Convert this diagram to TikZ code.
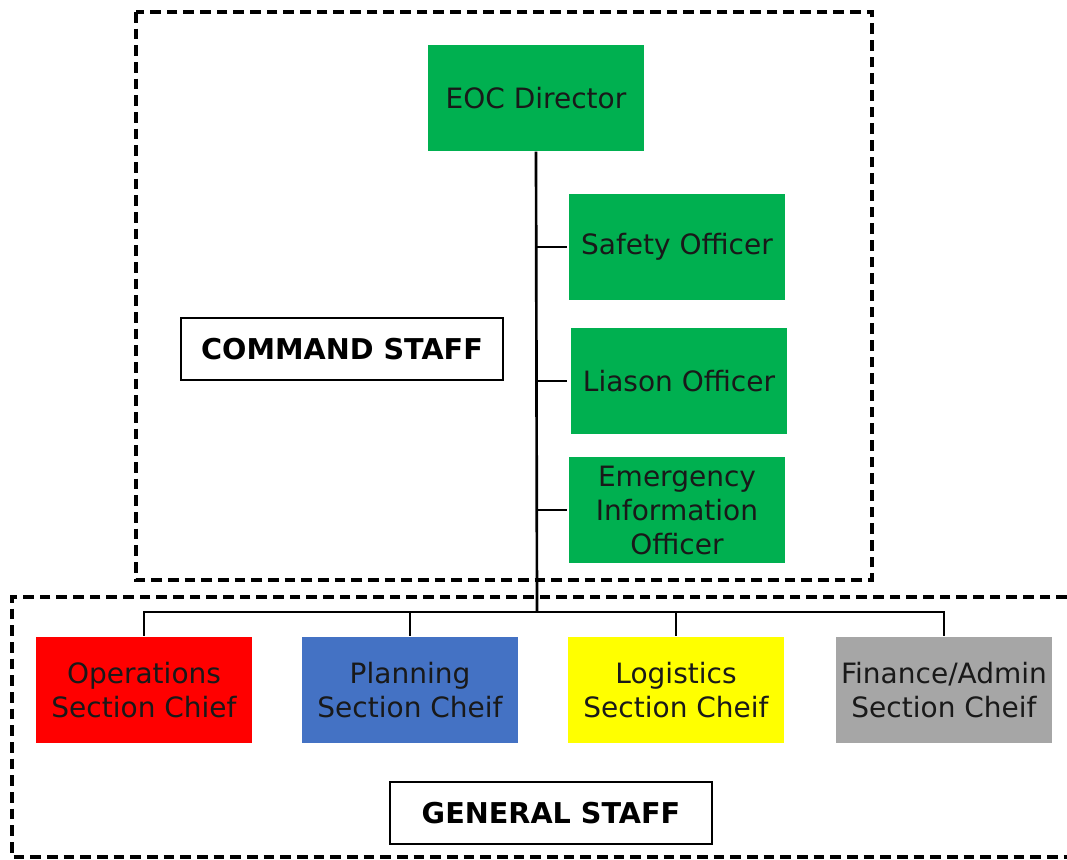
\documentclass[tikz,border=0pt]{standalone}
\usepackage{fontspec}
\setmainfont{DejaVu Sans}
\usepackage{xcolor}
\usetikzlibrary{positioning,calc}

\definecolor{eocgreen}{HTML}{00B050}
\definecolor{opsred}{HTML}{FF0000}
\definecolor{planblue}{HTML}{4472C4}
\definecolor{logyellow}{HTML}{FFFF00}
\definecolor{fingray}{HTML}{A6A6A6}

\begin{document}
\begin{tikzpicture}[
    x=0.75pt, y=-0.75pt,
    role/.style={rectangle, minimum width=162pt, minimum height=80pt, inner sep=0pt,
        align=center, text=black!90, font=\fontsize{21}{25.5}\selectfont},
    staff/.style={rectangle, draw, line width=1.6pt, minimum width=241pt, minimum height=47pt,
        inner sep=0pt, font=\bfseries\fontsize{21.5}{25}\selectfont},
    group/.style={dash pattern=on 8pt off 4.5pt, line width=2.4pt},
    link/.style={line width=2pt}
]
\useasboundingbox (0,0) rectangle (1067,860);

% Staff areas
\draw[group] (136,12) rectangle (872,580);
\draw[group] (1067,597) -- (12,597) -- (12,857) -- (1067,857);

% Command staff
\node[role, fill=eocgreen] (dir) at (536,98) {EOC Director};
\node[role, fill=eocgreen] (safety) at (677,247) {Safety Officer};
\node[role, fill=eocgreen] (liason) at (679,381) {Liason Officer};
\node[role, fill=eocgreen] (pio) at (677,510) {Emergency\\Information\\Officer};
\node[staff] (cmd) at (342,349) {COMMAND STAFF};

% General staff
\node[role, fill=opsred] (ops) at (144,690) {Operations\\Section Chief};
\node[role, fill=planblue] (plan) at (410,690) {Planning\\Section Cheif};
\node[role, fill=logyellow] (log) at (676,690) {Logistics\\Section Cheif};
\node[role, fill=fingray] (fin) at (944,690) {Finance/Admin\\Section Cheif};
\node[staff] (gen) at (551,813) {GENERAL STAFF};

% Connectors
\coordinate (bus) at (537,612);
\draw[link] (dir.south) -- (bus);
\foreach \n in {safety,liason,pio}
    \draw[link] (bus |- \n.west) -- ++(30,0);
\foreach \n in {ops,plan,log,fin}
    \draw[link] (bus) -| (\n.north);

\end{tikzpicture}
\end{document}
